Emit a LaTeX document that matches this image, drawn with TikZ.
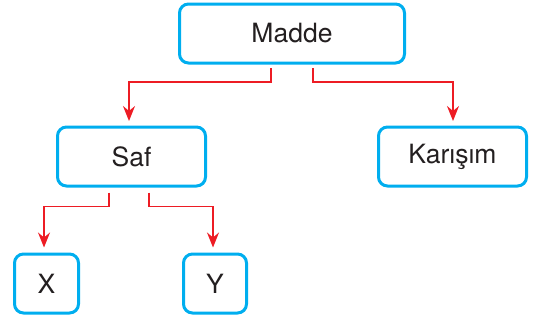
\documentclass[tikz,border=0pt]{standalone}
\usepackage{fontspec}
\setmainfont{TeX Gyre Heros}
\usetikzlibrary{arrows.meta}
\definecolor{boxblue}{RGB}{0,174,239}
\definecolor{linered}{RGB}{237,28,36}
\definecolor{txt}{RGB}{35,31,32}
\begin{document}
\begin{tikzpicture}[x=1pt,y=-1pt,
  box/.style={draw=boxblue,line width=3pt,rounded corners=9pt,minimum height=59pt,
    inner sep=0pt,text=txt,font=\fontsize{26.5}{31}\selectfont},
  conn/.style={draw=linered,line width=1.8pt,-{Stealth[length=15pt,width=12pt,inset=5pt]}}]
\useasboundingbox (0,0) rectangle (534,322);
\node[box,minimum width=225pt] (madde) at (292,33.5) {Madde};
\node[box,minimum width=148pt] (saf) at (131.5,156.5) {Saf};
\node[box,minimum width=148pt] (karisim) at (452.5,156.5) {Karışım};
\node[box,minimum width=64pt] (x) at (46.5,283.5) {X};
\node[box,minimum width=63pt] (y) at (215,283.5) {Y};
\draw[conn] ([xshift=-21pt,yshift=-3.5pt]madde.south) -- ++(0,14) -| ([xshift=-2.5pt,yshift=4.5pt]saf.north);
\draw[conn] ([xshift=21pt,yshift=-3.5pt]madde.south) -- ++(0,14) -| ([xshift=0.5pt,yshift=4.5pt]karisim.north);
\draw[conn] ([xshift=-22.5pt,yshift=-5pt]saf.south) -- ++(0,14) -| ([xshift=-2.5pt,yshift=5pt]x.north);
\draw[conn] ([xshift=17.5pt,yshift=-5pt]saf.south) -- ++(0,14) -| ([xshift=-2pt,yshift=5pt]y.north);
\end{tikzpicture}
\end{document}
